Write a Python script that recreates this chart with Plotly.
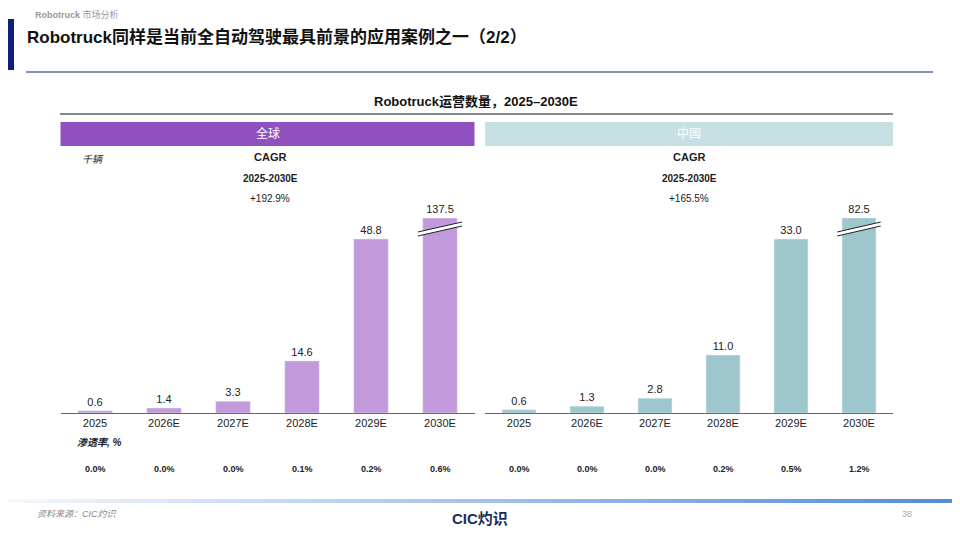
import plotly.graph_objects as go
from plotly.subplots import make_subplots

years = ["2025", "2026E", "2027E", "2028E", "2029E", "2030E"]
global_vals = [0.6, 1.4, 3.3, 14.6, 48.8, 137.5]
china_vals = [0.6, 1.3, 2.8, 11.0, 33.0, 82.5]
global_pen = ["0.0%", "0.0%", "0.0%", "0.1%", "0.2%", "0.6%"]
china_pen = ["0.0%", "0.0%", "0.0%", "0.2%", "0.5%", "1.2%"]
global_cagr = "+192.9%"
china_cagr = "+165.5%"

W, H = 960, 540
OFF = 8  # page body margin in the browser
FONT = "Liberation Sans, Noto Sans CJK SC"
def px(x): return (x - OFF) / W
def py(y): return 1 - (y - OFF) / H

fig = make_subplots(rows=1, cols=2)
y_bottom, y_top = 413, 200
panels = [
    (global_vals, global_pen, global_cagr, "#C29ADB", 60.5, 474.5, "全球", "#8F51C0", "white"),
    (china_vals, china_pen, china_cagr, "#9EC7CD", 485, 893, "中国", "#C7E0E4", "white"),
]
shapes = []
ann = []
for k, (vals, pen, cagr, col, x0, x1, hdr, hcol, htxt) in enumerate(panels):
    n = k + 1
    # second largest bar reaches pixel 239, largest is broken
    scale = (y_bottom - 239) / vals[-2]
    rng = (y_bottom - y_top) / scale
    disp = [min(v, (y_bottom - 218) / scale) for v in vals]
    fig.add_trace(go.Bar(x=years, y=disp, marker_color=col, width=0.5,
                         text=[f"{v:.1f}" for v in vals], textposition="outside",
                         textfont=dict(size=11, color="#222"), cliponaxis=False,
                         showlegend=False), row=1, col=n)
    xa = "xaxis" if n == 1 else "xaxis2"
    ya = "yaxis" if n == 1 else "yaxis2"
    fig.layout[xa].update(domain=[px(x0), px(x1)], showline=True, linecolor="#666",
                          tickfont=dict(size=11, color="#222"), ticks="", showgrid=False)
    fig.layout[ya].update(domain=[py(y_bottom), py(y_top)], range=[0, rng], visible=False)
    # axis break mark on the last bar
    d = disp[-1]
    xr, yr = ("x" if n == 1 else "x2"), ("y" if n == 1 else "y2")
    shapes.append(dict(type="path", xref=xr, yref=yr,
                       path=f"M 4.68 {d - 18 / scale} L 5.32 {d - 8 / scale} L 5.32 {d - 4 / scale} L 4.68 {d - 14 / scale} Z",
                       fillcolor="white", line=dict(width=0)))
    for dy in (18, 14):
        shapes.append(dict(type="line", xref=xr, yref=yr, x0=4.68, x1=5.32,
                           y0=d - dy / scale, y1=d - (dy - 10) / scale,
                           line=dict(color="#222", width=1)))
    # header strip
    shapes.append(dict(type="rect", xref="paper", yref="paper", x0=px(x0), x1=px(x1),
                       y0=py(146), y1=py(122), fillcolor=hcol, line=dict(width=0)))
    ann.append(dict(x=px((x0 + x1) / 2), y=py(133), text=hdr, font=dict(size=12, color=htxt)))
    cx = 270 if n == 1 else 689
    ann.append(dict(x=px(cx), y=py(157), text="<b>CAGR</b>", font=dict(size=11, color="#222")))
    ann.append(dict(x=px(cx), y=py(178), text="<b>2025-2030E</b>", font=dict(size=10, color="#222")))
    ann.append(dict(x=px(cx), y=py(199), text=cagr, font=dict(size=10, color="#222")))
    step = (x1 - x0) / 6
    for i, p in enumerate(pen):
        ann.append(dict(x=px(x0 + step * (i + 0.5)), y=py(469), text=f"<b>{p}</b>",
                        font=dict(size=9, color="#222")))

# page furniture
shapes += [
    dict(type="rect", xref="paper", yref="paper", x0=px(0), x1=px(14), y0=py(70), y1=py(19),
         fillcolor="#0E1F7A", line=dict(width=0)),
    dict(type="line", xref="paper", yref="paper", x0=px(26), x1=px(933), y0=py(72), y1=py(72),
         line=dict(color="#0E1F7A", width=1.2)),
    dict(type="line", xref="paper", yref="paper", x0=px(60), x1=px(893), y0=py(114), y1=py(114),
         line=dict(color="#111", width=1.2)),
]
nseg = 40
for i in range(nseg):
    t = i / (nseg - 1)
    c = "rgb(%d,%d,%d)" % (245 - 160 * t, 248 - 108 * t, 253 - 34 * t)
    shapes.append(dict(type="rect", xref="paper", yref="paper", x0=px(i * W / nseg), x1=px((i + 1) * W / nseg + 1),
                       y0=py(503), y1=py(499), fillcolor=c, line=dict(width=0)))

ann += [
    dict(x=px(33), y=py(15), xanchor="left", text="<b>Robotruck</b> 市场分析", font=dict(size=9, color="#999")),
    dict(x=px(25), y=py(37), xanchor="left", text="<b>Robotruck同样是当前全自动驾驶最具前景的应用案例之一（2/2）</b>",
         font=dict(size=17, color="#111")),
    dict(x=px(476), y=py(102), text="<b>Robotruck运营数量，2025–2030E</b>", font=dict(size=13, color="#111")),
    dict(x=px(80), y=py(160), xanchor="left", text="<i>千辆</i>", font=dict(size=10, color="#222")),
    dict(x=px(75), y=py(442), xanchor="left", text="<i><b>渗透率, %</b></i>", font=dict(size=10, color="#222")),
    dict(x=px(35), y=py(514), xanchor="left", text="<i>资料来源：CIC灼识</i>", font=dict(size=9, color="#888")),
    dict(x=px(480), y=py(518), text="<b>CIC灼识</b>", font=dict(size=15, color="#1A2E5A")),
    dict(x=px(907), y=py(514), text="38", font=dict(size=9, color="#aaa")),
]
for a in ann:
    a.update(xref="paper", yref="paper", showarrow=False, yanchor="middle")
    a.setdefault("xanchor", "center")

fig.update_layout(width=W, height=H, margin=dict(l=0, r=0, t=0, b=0),
                  paper_bgcolor="white", plot_bgcolor="white", font=dict(family=FONT),
                  shapes=shapes, annotations=ann)
fig.write_html("out.html")
